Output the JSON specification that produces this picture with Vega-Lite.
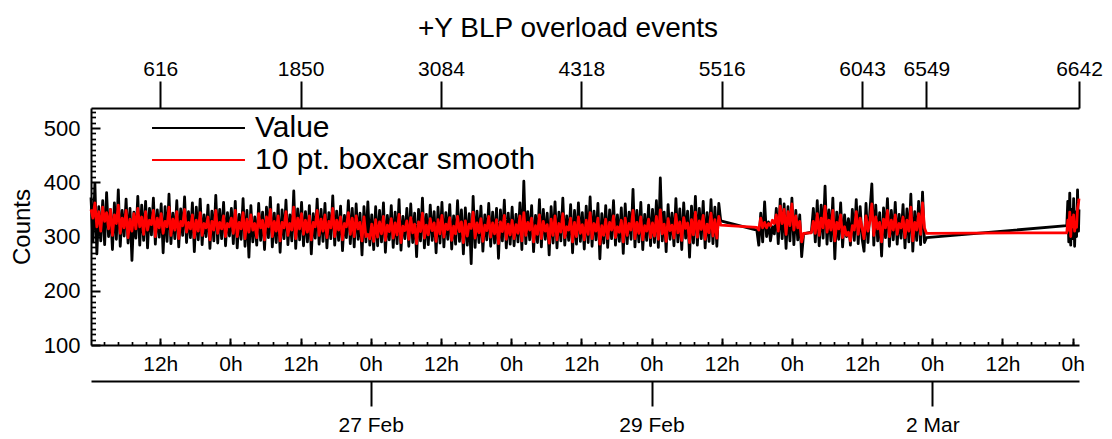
{
"$schema": "https://vega.github.io/schema/vega-lite/v6.json",
"width": 988, "height": 237,
"autosize": "none",
"padding": {"left": 91, "top": 108, "right": 33, "bottom": 94},
"title": {"text": "+Y BLP overload events", "fontSize": 28, "fontWeight": "normal", "font": "Liberation Sans", "color": "#000000", "anchor": "middle", "frame": "group", "dx": -17, "offset": 15},
"config": {
  "view": {"stroke": null},
  "font": "Liberation Sans",
  "axis": {"domainColor": "#000000", "tickColor": "#000000", "labelColor": "#000000", "titleColor": "#000000", "domainWidth": 2, "tickWidth": 2, "labelFont": "Liberation Sans", "titleFont": "Liberation Sans", "labelFontSize": 21, "titleFontSize": 24, "titleFontWeight": "normal", "grid": false, "labelOverlap": false, "labelFlush": false, "labelBound": false},
  "legend": {"labelFont": "Liberation Sans"}
},
"data": {"values": [
{"t":"2016-02-25T00:10Z","v":372,"s":350},{"t":"2016-02-25T00:30Z","v":290,"s":334},{"t":"2016-02-25T00:50Z","v":398,"s":362},
{"t":"2016-02-25T01:10Z","v":268,"s":318},{"t":"2016-02-25T01:30Z","v":355,"s":346},{"t":"2016-02-25T01:50Z","v":292,"s":310},
{"t":"2016-02-25T02:10Z","v":366,"s":354},{"t":"2016-02-25T02:30Z","v":285,"s":328},{"t":"2016-02-25T02:50Z","v":381,"s":344},
{"t":"2016-02-25T03:10Z","v":300,"s":314},{"t":"2016-02-25T03:30Z","v":350,"s":350},{"t":"2016-02-25T03:50Z","v":276,"s":302},
{"t":"2016-02-25T04:10Z","v":362,"s":340},{"t":"2016-02-25T04:30Z","v":295,"s":324},{"t":"2016-02-25T04:50Z","v":386,"s":358},
{"t":"2016-02-25T05:10Z","v":282,"s":306},{"t":"2016-02-25T05:30Z","v":348,"s":334},{"t":"2016-02-25T05:50Z","v":301,"s":316},
{"t":"2016-02-25T06:10Z","v":369,"s":348},{"t":"2016-02-25T06:30Z","v":288,"s":298},{"t":"2016-02-25T06:50Z","v":352,"s":332},
{"t":"2016-02-25T07:10Z","v":256,"s":310},{"t":"2016-02-25T07:30Z","v":345,"s":342},{"t":"2016-02-25T07:50Z","v":297,"s":314},
{"t":"2016-02-25T08:10Z","v":374,"s":352},{"t":"2016-02-25T08:30Z","v":284,"s":318},{"t":"2016-02-25T08:50Z","v":358,"s":336},
{"t":"2016-02-25T09:10Z","v":293,"s":304},{"t":"2016-02-25T09:30Z","v":365,"s":346},{"t":"2016-02-25T09:50Z","v":279,"s":312},
{"t":"2016-02-25T10:10Z","v":352,"s":330},{"t":"2016-02-25T10:30Z","v":303,"s":322},{"t":"2016-02-25T10:50Z","v":371,"s":348},
{"t":"2016-02-25T11:10Z","v":286,"s":300},{"t":"2016-02-25T11:30Z","v":349,"s":334},{"t":"2016-02-25T11:50Z","v":299,"s":316},
{"t":"2016-02-25T12:10Z","v":360,"s":342},{"t":"2016-02-25T12:30Z","v":270,"s":306},{"t":"2016-02-25T12:50Z","v":355,"s":328},
{"t":"2016-02-25T13:10Z","v":291,"s":318},{"t":"2016-02-25T13:30Z","v":378,"s":354},{"t":"2016-02-25T13:50Z","v":287,"s":302},
{"t":"2016-02-25T14:10Z","v":343,"s":332},{"t":"2016-02-25T14:30Z","v":296,"s":312},{"t":"2016-02-25T14:50Z","v":366,"s":346},
{"t":"2016-02-25T15:10Z","v":281,"s":296},{"t":"2016-02-25T15:30Z","v":351,"s":328},{"t":"2016-02-25T15:50Z","v":302,"s":320},
{"t":"2016-02-25T16:10Z","v":373,"s":350},{"t":"2016-02-25T16:30Z","v":289,"s":308},{"t":"2016-02-25T16:50Z","v":346,"s":326},
{"t":"2016-02-25T17:10Z","v":298,"s":314},{"t":"2016-02-25T17:30Z","v":362,"s":340},{"t":"2016-02-25T17:50Z","v":272,"s":298},
{"t":"2016-02-25T18:10Z","v":354,"s":330},{"t":"2016-02-25T18:30Z","v":294,"s":310},{"t":"2016-02-25T18:50Z","v":369,"s":344},
{"t":"2016-02-25T19:10Z","v":285,"s":302},{"t":"2016-02-25T19:30Z","v":340,"s":324},{"t":"2016-02-25T19:50Z","v":300,"s":316},
{"t":"2016-02-25T20:10Z","v":358,"s":336},{"t":"2016-02-25T20:30Z","v":278,"s":294},{"t":"2016-02-25T20:50Z","v":347,"s":328},
{"t":"2016-02-25T21:10Z","v":292,"s":312},{"t":"2016-02-25T21:30Z","v":376,"s":348},{"t":"2016-02-25T21:50Z","v":288,"s":306},
{"t":"2016-02-25T22:10Z","v":350,"s":326},{"t":"2016-02-25T22:30Z","v":296,"s":314},{"t":"2016-02-25T22:50Z","v":363,"s":338},
{"t":"2016-02-25T23:10Z","v":283,"s":300},{"t":"2016-02-25T23:30Z","v":344,"s":324},{"t":"2016-02-25T23:50Z","v":301,"s":318},
{"t":"2016-02-26T00:10Z","v":352,"s":334},{"t":"2016-02-26T00:30Z","v":287,"s":306},{"t":"2016-02-26T00:50Z","v":365,"s":348},
{"t":"2016-02-26T01:10Z","v":279,"s":300},{"t":"2016-02-26T01:30Z","v":341,"s":326},{"t":"2016-02-26T01:50Z","v":295,"s":314},
{"t":"2016-02-26T02:10Z","v":370,"s":344},{"t":"2016-02-26T02:30Z","v":282,"s":296},{"t":"2016-02-26T02:50Z","v":348,"s":332},
{"t":"2016-02-26T03:10Z","v":262,"s":308},{"t":"2016-02-26T03:30Z","v":357,"s":340},{"t":"2016-02-26T03:50Z","v":290,"s":312},
{"t":"2016-02-26T04:10Z","v":336,"s":324},{"t":"2016-02-26T04:30Z","v":284,"s":298},{"t":"2016-02-26T04:50Z","v":361,"s":342},
{"t":"2016-02-26T05:10Z","v":293,"s":316},{"t":"2016-02-26T05:30Z","v":345,"s":330},{"t":"2016-02-26T05:50Z","v":276,"s":294},
{"t":"2016-02-26T06:10Z","v":354,"s":336},{"t":"2016-02-26T06:30Z","v":298,"s":318},{"t":"2016-02-26T06:50Z","v":372,"s":350},
{"t":"2016-02-26T07:10Z","v":281,"s":300},{"t":"2016-02-26T07:30Z","v":343,"s":328},{"t":"2016-02-26T07:50Z","v":289,"s":310},
{"t":"2016-02-26T08:10Z","v":359,"s":338},{"t":"2016-02-26T08:30Z","v":271,"s":292},{"t":"2016-02-26T08:50Z","v":349,"s":326},
{"t":"2016-02-26T09:10Z","v":296,"s":316},{"t":"2016-02-26T09:30Z","v":367,"s":346},{"t":"2016-02-26T09:50Z","v":285,"s":302},
{"t":"2016-02-26T10:10Z","v":340,"s":324},{"t":"2016-02-26T10:30Z","v":292,"s":312},{"t":"2016-02-26T10:50Z","v":384,"s":354},
{"t":"2016-02-26T11:10Z","v":278,"s":296},{"t":"2016-02-26T11:30Z","v":351,"s":334},{"t":"2016-02-26T11:50Z","v":294,"s":314},
{"t":"2016-02-26T12:10Z","v":363,"s":342},{"t":"2016-02-26T12:30Z","v":283,"s":304},{"t":"2016-02-26T12:50Z","v":346,"s":330},
{"t":"2016-02-26T13:10Z","v":290,"s":308},{"t":"2016-02-26T13:30Z","v":357,"s":338},{"t":"2016-02-26T13:50Z","v":268,"s":294},
{"t":"2016-02-26T14:10Z","v":342,"s":326},{"t":"2016-02-26T14:30Z","v":297,"s":318},{"t":"2016-02-26T14:50Z","v":369,"s":348},
{"t":"2016-02-26T15:10Z","v":286,"s":302},{"t":"2016-02-26T15:30Z","v":350,"s":332},{"t":"2016-02-26T15:50Z","v":291,"s":310},
{"t":"2016-02-26T16:10Z","v":361,"s":340},{"t":"2016-02-26T16:30Z","v":279,"s":298},{"t":"2016-02-26T16:50Z","v":344,"s":328},
{"t":"2016-02-26T17:10Z","v":296,"s":316},{"t":"2016-02-26T17:30Z","v":375,"s":352},{"t":"2016-02-26T17:50Z","v":284,"s":300},
{"t":"2016-02-26T18:10Z","v":347,"s":330},{"t":"2016-02-26T18:30Z","v":293,"s":312},{"t":"2016-02-26T18:50Z","v":356,"s":336},
{"t":"2016-02-26T19:10Z","v":274,"s":294},{"t":"2016-02-26T19:30Z","v":339,"s":324},{"t":"2016-02-26T19:50Z","v":298,"s":318},
{"t":"2016-02-26T20:10Z","v":366,"s":344},{"t":"2016-02-26T20:30Z","v":287,"s":304},{"t":"2016-02-26T20:50Z","v":352,"s":334},
{"t":"2016-02-26T21:10Z","v":281,"s":300},{"t":"2016-02-26T21:30Z","v":360,"s":338},{"t":"2016-02-26T21:50Z","v":295,"s":314},
{"t":"2016-02-26T22:10Z","v":343,"s":326},{"t":"2016-02-26T22:30Z","v":266,"s":292},{"t":"2016-02-26T22:50Z","v":355,"s":336},
{"t":"2016-02-26T23:10Z","v":290,"s":300},{"t":"2016-02-26T23:30Z","v":364,"s":304},{"t":"2016-02-26T23:50Z","v":284,"s":296},
{"t":"2016-02-27T00:10Z","v":340,"s":323},{"t":"2016-02-27T00:30Z","v":276,"s":291},{"t":"2016-02-27T00:50Z","v":355,"s":331},
{"t":"2016-02-27T01:10Z","v":283,"s":299},{"t":"2016-02-27T01:30Z","v":348,"s":327},{"t":"2016-02-27T01:50Z","v":290,"s":305},
{"t":"2016-02-27T02:10Z","v":362,"s":337},{"t":"2016-02-27T02:30Z","v":271,"s":293},{"t":"2016-02-27T02:50Z","v":339,"s":321},
{"t":"2016-02-27T03:10Z","v":294,"s":309},{"t":"2016-02-27T03:30Z","v":357,"s":333},{"t":"2016-02-27T03:50Z","v":280,"s":297},
{"t":"2016-02-27T04:10Z","v":345,"s":325},{"t":"2016-02-27T04:30Z","v":287,"s":303},{"t":"2016-02-27T04:50Z","v":368,"s":341},
{"t":"2016-02-27T05:10Z","v":275,"s":289},{"t":"2016-02-27T05:30Z","v":337,"s":319},{"t":"2016-02-27T05:50Z","v":296,"s":311},
{"t":"2016-02-27T06:10Z","v":352,"s":329},{"t":"2016-02-27T06:30Z","v":282,"s":295},{"t":"2016-02-27T06:50Z","v":360,"s":335},
{"t":"2016-02-27T07:10Z","v":289,"s":307},{"t":"2016-02-27T07:30Z","v":343,"s":323},{"t":"2016-02-27T07:50Z","v":263,"s":287},
{"t":"2016-02-27T08:10Z","v":350,"s":327},{"t":"2016-02-27T08:30Z","v":292,"s":309},{"t":"2016-02-27T08:50Z","v":371,"s":343},
{"t":"2016-02-27T09:10Z","v":279,"s":297},{"t":"2016-02-27T09:30Z","v":341,"s":321},{"t":"2016-02-27T09:50Z","v":285,"s":303},
{"t":"2016-02-27T10:10Z","v":358,"s":333},{"t":"2016-02-27T10:30Z","v":293,"s":311},{"t":"2016-02-27T10:50Z","v":346,"s":325},
{"t":"2016-02-27T11:10Z","v":270,"s":291},{"t":"2016-02-27T11:30Z","v":354,"s":331},{"t":"2016-02-27T11:50Z","v":288,"s":305},
{"t":"2016-02-27T12:10Z","v":363,"s":339},{"t":"2016-02-27T12:30Z","v":281,"s":299},{"t":"2016-02-27T12:50Z","v":344,"s":323},
{"t":"2016-02-27T13:10Z","v":295,"s":313},{"t":"2016-02-27T13:30Z","v":359,"s":335},{"t":"2016-02-27T13:50Z","v":277,"s":293},
{"t":"2016-02-27T14:10Z","v":338,"s":319},{"t":"2016-02-27T14:30Z","v":286,"s":305},{"t":"2016-02-27T14:50Z","v":366,"s":337},
{"t":"2016-02-27T15:10Z","v":291,"s":309},{"t":"2016-02-27T15:30Z","v":349,"s":327},{"t":"2016-02-27T15:50Z","v":268,"s":289},
{"t":"2016-02-27T16:10Z","v":353,"s":329},{"t":"2016-02-27T16:30Z","v":284,"s":301},{"t":"2016-02-27T16:50Z","v":342,"s":323},
{"t":"2016-02-27T17:10Z","v":250,"s":315},{"t":"2016-02-27T17:30Z","v":374,"s":345},{"t":"2016-02-27T17:50Z","v":280,"s":297},
{"t":"2016-02-27T18:10Z","v":347,"s":325},{"t":"2016-02-27T18:30Z","v":289,"s":307},{"t":"2016-02-27T18:50Z","v":356,"s":333},
{"t":"2016-02-27T19:10Z","v":273,"s":291},{"t":"2016-02-27T19:30Z","v":340,"s":321},{"t":"2016-02-27T19:50Z","v":294,"s":311},
{"t":"2016-02-27T20:10Z","v":361,"s":337},{"t":"2016-02-27T20:30Z","v":282,"s":299},{"t":"2016-02-27T20:50Z","v":345,"s":325},
{"t":"2016-02-27T21:10Z","v":288,"s":305},{"t":"2016-02-27T21:30Z","v":352,"s":331},{"t":"2016-02-27T21:50Z","v":260,"s":287},
{"t":"2016-02-27T22:10Z","v":349,"s":327},{"t":"2016-02-27T22:30Z","v":292,"s":309},{"t":"2016-02-27T22:50Z","v":367,"s":339},
{"t":"2016-02-27T23:10Z","v":279,"s":295},{"t":"2016-02-27T23:30Z","v":343,"s":323},{"t":"2016-02-27T23:50Z","v":286,"s":303},
{"t":"2016-02-28T00:10Z","v":354,"s":330},{"t":"2016-02-28T00:30Z","v":283,"s":296},{"t":"2016-02-28T00:50Z","v":341,"s":322},
{"t":"2016-02-28T01:10Z","v":290,"s":306},{"t":"2016-02-28T01:30Z","v":362,"s":338},{"t":"2016-02-28T01:50Z","v":276,"s":292},
{"t":"2016-02-28T02:10Z","v":402,"s":344},{"t":"2016-02-28T02:30Z","v":287,"s":302},{"t":"2016-02-28T02:50Z","v":346,"s":326},
{"t":"2016-02-28T03:10Z","v":294,"s":312},{"t":"2016-02-28T03:30Z","v":357,"s":334},{"t":"2016-02-28T03:50Z","v":272,"s":290},
{"t":"2016-02-28T04:10Z","v":339,"s":320},{"t":"2016-02-28T04:30Z","v":289,"s":304},{"t":"2016-02-28T04:50Z","v":368,"s":340},
{"t":"2016-02-28T05:10Z","v":281,"s":296},{"t":"2016-02-28T05:30Z","v":350,"s":328},{"t":"2016-02-28T05:50Z","v":295,"s":310},
{"t":"2016-02-28T06:10Z","v":343,"s":322},{"t":"2016-02-28T06:30Z","v":266,"s":288},{"t":"2016-02-28T06:50Z","v":355,"s":332},
{"t":"2016-02-28T07:10Z","v":288,"s":302},{"t":"2016-02-28T07:30Z","v":364,"s":338},{"t":"2016-02-28T07:50Z","v":279,"s":294},
{"t":"2016-02-28T08:10Z","v":345,"s":324},{"t":"2016-02-28T08:30Z","v":292,"s":308},{"t":"2016-02-28T08:50Z","v":371,"s":342},
{"t":"2016-02-28T09:10Z","v":284,"s":298},{"t":"2016-02-28T09:30Z","v":338,"s":318},{"t":"2016-02-28T09:50Z","v":293,"s":312},
{"t":"2016-02-28T10:10Z","v":359,"s":334},{"t":"2016-02-28T10:30Z","v":270,"s":290},{"t":"2016-02-28T10:50Z","v":348,"s":326},
{"t":"2016-02-28T11:10Z","v":286,"s":300},{"t":"2016-02-28T11:30Z","v":362,"s":336},{"t":"2016-02-28T11:50Z","v":291,"s":306},
{"t":"2016-02-28T12:10Z","v":344,"s":322},{"t":"2016-02-28T12:30Z","v":277,"s":294},{"t":"2016-02-28T12:50Z","v":356,"s":330},
{"t":"2016-02-28T13:10Z","v":289,"s":304},{"t":"2016-02-28T13:30Z","v":373,"s":344},{"t":"2016-02-28T13:50Z","v":282,"s":296},
{"t":"2016-02-28T14:10Z","v":347,"s":324},{"t":"2016-02-28T14:30Z","v":294,"s":310},{"t":"2016-02-28T14:50Z","v":361,"s":334},
{"t":"2016-02-28T15:10Z","v":259,"s":286},{"t":"2016-02-28T15:30Z","v":342,"s":320},{"t":"2016-02-28T15:50Z","v":288,"s":302},
{"t":"2016-02-28T16:10Z","v":357,"s":332},{"t":"2016-02-28T16:30Z","v":280,"s":296},{"t":"2016-02-28T16:50Z","v":349,"s":326},
{"t":"2016-02-28T17:10Z","v":296,"s":312},{"t":"2016-02-28T17:30Z","v":366,"s":338},{"t":"2016-02-28T17:50Z","v":284,"s":298},
{"t":"2016-02-28T18:10Z","v":340,"s":318},{"t":"2016-02-28T18:30Z","v":291,"s":308},{"t":"2016-02-28T18:50Z","v":353,"s":330},
{"t":"2016-02-28T19:10Z","v":269,"s":290},{"t":"2016-02-28T19:30Z","v":360,"s":334},{"t":"2016-02-28T19:50Z","v":287,"s":302},
{"t":"2016-02-28T20:10Z","v":345,"s":324},{"t":"2016-02-28T20:30Z","v":295,"s":312},{"t":"2016-02-28T20:50Z","v":387,"s":348},
{"t":"2016-02-28T21:10Z","v":281,"s":296},{"t":"2016-02-28T21:30Z","v":348,"s":326},{"t":"2016-02-28T21:50Z","v":290,"s":306},
{"t":"2016-02-28T22:10Z","v":363,"s":336},{"t":"2016-02-28T22:30Z","v":276,"s":294},{"t":"2016-02-28T22:50Z","v":341,"s":320},
{"t":"2016-02-28T23:10Z","v":293,"s":310},{"t":"2016-02-28T23:30Z","v":358,"s":332},{"t":"2016-02-28T23:50Z","v":283,"s":298},
{"t":"2016-02-29T00:10Z","v":350,"s":325},{"t":"2016-02-29T00:30Z","v":289,"s":301},{"t":"2016-02-29T00:50Z","v":366,"s":337},
{"t":"2016-02-29T01:10Z","v":280,"s":295},{"t":"2016-02-29T01:30Z","v":408,"s":349},{"t":"2016-02-29T01:50Z","v":292,"s":305},
{"t":"2016-02-29T02:10Z","v":345,"s":323},{"t":"2016-02-29T02:30Z","v":272,"s":291},{"t":"2016-02-29T02:50Z","v":359,"s":333},
{"t":"2016-02-29T03:10Z","v":295,"s":311},{"t":"2016-02-29T03:30Z","v":343,"s":321},{"t":"2016-02-29T03:50Z","v":283,"s":297},
{"t":"2016-02-29T04:10Z","v":370,"s":341},{"t":"2016-02-29T04:30Z","v":290,"s":307},{"t":"2016-02-29T04:50Z","v":351,"s":327},
{"t":"2016-02-29T05:10Z","v":276,"s":293},{"t":"2016-02-29T05:30Z","v":362,"s":335},{"t":"2016-02-29T05:50Z","v":297,"s":315},
{"t":"2016-02-29T06:10Z","v":347,"s":325},{"t":"2016-02-29T06:30Z","v":262,"s":289},{"t":"2016-02-29T06:50Z","v":356,"s":331},
{"t":"2016-02-29T07:10Z","v":288,"s":303},{"t":"2016-02-29T07:30Z","v":374,"s":345},{"t":"2016-02-29T07:50Z","v":284,"s":299},
{"t":"2016-02-29T08:10Z","v":352,"s":329},{"t":"2016-02-29T08:30Z","v":296,"s":313},{"t":"2016-02-29T08:50Z","v":365,"s":339},
{"t":"2016-02-29T09:10Z","v":279,"s":295},{"t":"2016-02-29T09:30Z","v":344,"s":323},{"t":"2016-02-29T09:50Z","v":291,"s":307},
{"t":"2016-02-29T10:10Z","v":368,"s":343},{"t":"2016-02-29T10:30Z","v":287,"s":301},{"t":"2016-02-29T10:50Z","v":354,"s":331},
{"t":"2016-02-29T11:10Z","v":282,"s":297},{"t":"2016-02-29T11:30Z","v":361,"s":337},{"t":"2016-02-29T11:50Z","v":329,"s":321},
{"t":"2016-02-29T18:00Z","v":312,"s":317},{"t":"2016-02-29T18:20Z","v":284,"s":312},{"t":"2016-02-29T18:40Z","v":343,"s":334},
{"t":"2016-02-29T19:00Z","v":290,"s":316},{"t":"2016-02-29T19:20Z","v":364,"s":326},{"t":"2016-02-29T19:40Z","v":300,"s":316},
{"t":"2016-02-29T20:00Z","v":327,"s":324},{"t":"2016-02-29T20:20Z","v":292,"s":320},{"t":"2016-02-29T20:40Z","v":318,"s":330},
{"t":"2016-02-29T21:00Z","v":305,"s":324},
{"t":"2016-02-29T21:20Z","v":352,"s":340},{"t":"2016-02-29T21:40Z","v":287,"s":310},{"t":"2016-02-29T22:00Z","v":369,"s":356},
{"t":"2016-02-29T22:20Z","v":296,"s":324},{"t":"2016-02-29T22:40Z","v":360,"s":350},{"t":"2016-02-29T23:00Z","v":278,"s":304},
{"t":"2016-02-29T23:20Z","v":355,"s":346},{"t":"2016-02-29T23:40Z","v":292,"s":320},{"t":"2016-03-01T00:00Z","v":371,"s":360},
{"t":"2016-03-01T00:20Z","v":285,"s":312},{"t":"2016-03-01T00:40Z","v":348,"s":338},{"t":"2016-03-01T01:00Z","v":294,"s":316},
{"t":"2016-03-01T01:20Z","v":340,"s":328},{"t":"2016-03-01T01:40Z","v":263,"s":290},{"t":"2016-03-01T02:00Z","v":305,"s":306},
{"t":"2016-03-01T03:20Z","v":308,"s":307},{"t":"2016-03-01T03:40Z","v":352,"s":328},{"t":"2016-03-01T04:00Z","v":290,"s":306},
{"t":"2016-03-01T04:20Z","v":366,"s":342},{"t":"2016-03-01T04:40Z","v":283,"s":302},{"t":"2016-03-01T05:00Z","v":358,"s":334},
{"t":"2016-03-01T05:20Z","v":297,"s":316},{"t":"2016-03-01T05:40Z","v":393,"s":356},{"t":"2016-03-01T06:00Z","v":286,"s":308},
{"t":"2016-03-01T06:20Z","v":349,"s":330},{"t":"2016-03-01T06:40Z","v":292,"s":312},{"t":"2016-03-01T07:00Z","v":371,"s":348},
{"t":"2016-03-01T07:20Z","v":259,"s":292},{"t":"2016-03-01T07:40Z","v":345,"s":326},{"t":"2016-03-01T08:00Z","v":295,"s":314},
{"t":"2016-03-01T08:20Z","v":362,"s":340},{"t":"2016-03-01T08:40Z","v":281,"s":298},{"t":"2016-03-01T09:00Z","v":340,"s":318},
{"t":"2016-03-01T09:20Z","v":300,"s":302},{"t":"2016-03-01T09:40Z","v":333,"s":308},{"t":"2016-03-01T10:00Z","v":284,"s":292},
{"t":"2016-03-01T10:20Z","v":350,"s":320},{"t":"2016-03-01T10:40Z","v":293,"s":312},{"t":"2016-03-01T11:00Z","v":368,"s":346},
{"t":"2016-03-01T11:20Z","v":287,"s":304},{"t":"2016-03-01T11:40Z","v":355,"s":334},{"t":"2016-03-01T12:00Z","v":296,"s":316},
{"t":"2016-03-01T12:20Z","v":273,"s":296},{"t":"2016-03-01T12:40Z","v":361,"s":338},{"t":"2016-03-01T13:00Z","v":289,"s":310},
{"t":"2016-03-01T13:20Z","v":347,"s":328},{"t":"2016-03-01T13:40Z","v":397,"s":360},{"t":"2016-03-01T14:00Z","v":284,"s":302},
{"t":"2016-03-01T14:20Z","v":358,"s":336},{"t":"2016-03-01T14:40Z","v":292,"s":314},{"t":"2016-03-01T15:00Z","v":344,"s":326},
{"t":"2016-03-01T15:20Z","v":264,"s":290},{"t":"2016-03-01T15:40Z","v":353,"s":332},{"t":"2016-03-01T16:00Z","v":298,"s":316},
{"t":"2016-03-01T16:20Z","v":370,"s":348},{"t":"2016-03-01T16:40Z","v":282,"s":300},{"t":"2016-03-01T17:00Z","v":348,"s":330},
{"t":"2016-03-01T17:20Z","v":294,"s":312},{"t":"2016-03-01T17:40Z","v":363,"s":340},{"t":"2016-03-01T18:00Z","v":286,"s":304},
{"t":"2016-03-01T18:20Z","v":341,"s":324},{"t":"2016-03-01T18:40Z","v":297,"s":316},{"t":"2016-03-01T19:00Z","v":359,"s":336},
{"t":"2016-03-01T19:20Z","v":279,"s":298},{"t":"2016-03-01T19:40Z","v":351,"s":330},{"t":"2016-03-01T20:00Z","v":290,"s":310},
{"t":"2016-03-01T20:20Z","v":378,"s":354},{"t":"2016-03-01T20:40Z","v":273,"s":292},{"t":"2016-03-01T21:00Z","v":346,"s":326},
{"t":"2016-03-01T21:20Z","v":293,"s":312},{"t":"2016-03-01T21:40Z","v":365,"s":342},{"t":"2016-03-01T22:00Z","v":285,"s":304},
{"t":"2016-03-01T22:20Z","v":382,"s":362},{"t":"2016-03-01T22:40Z","v":289,"s":316},{"t":"2016-03-01T23:00Z","v":298,"s":306},
{"t":"2016-03-02T23:00Z","v":320,"s":307},{"t":"2016-03-02T23:10Z","v":365,"s":330},{"t":"2016-03-02T23:20Z","v":290,"s":312},
{"t":"2016-03-02T23:30Z","v":380,"s":345},{"t":"2016-03-02T23:40Z","v":284,"s":300},{"t":"2016-03-02T23:50Z","v":350,"s":335},
{"t":"2016-03-03T00:00Z","v":296,"s":318},{"t":"2016-03-03T00:10Z","v":370,"s":340},{"t":"2016-03-03T00:20Z","v":282,"s":310},
{"t":"2016-03-03T00:30Z","v":345,"s":326},{"t":"2016-03-03T00:40Z","v":300,"s":317},{"t":"2016-03-03T00:50Z","v":386,"s":352},
{"t":"2016-03-03T01:00Z","v":310,"s":362},{"t":"2016-03-03T01:05Z","v":350,"s":370}
]},
"layer": [
  {
    "mark": {"type": "line", "strokeWidth": 2.8, "strokeJoin": "round"},
    "encoding": {
      "x": {"field": "t", "type": "temporal", "scale": {"type": "utc"},
            "axis": {"orient": "bottom", "title": null, "values": [1456401600000,1456444800000,1456488000000,1456531200000,1456574400000,1456617600000,1456660800000,1456704000000,1456747200000,1456790400000,1456833600000,1456876800000,1456920000000,1456963200000],
                     "labelExpr": "utchours(datum.value)==0 ? '0h' : '12h'", "tickSize": -7, "labelPadding": 15}},
      "y": {"field": "v", "type": "quantitative", "scale": {"domain": [100, 537], "nice": false, "zero": false},
            "axis": {"orient": "left", "values": [100,200,300,400,500], "tickSize": -9, "labelPadding": 20, "labelFontSize": 22, "title": "Counts", "titleFontSize": 24, "titleFontWeight": "normal", "titlePadding": 9}},
      "color": {"datum": "Value", "type": "nominal",
                "scale": {"domain": ["Value", "10 pt. boxcar smooth"], "range": ["#000000", "#ff0000"]},
                "legend": {"orient": "none", "legendX": 92.5, "legendY": 5, "title": null, "padding": 0,
                           "symbolType": "M-4,0H4", "symbolSize": 540, "symbolStrokeWidth": 2,
                           "labelFontSize": 30, "labelColor": "#000000", "labelOffset": 41.5, "labelLimit": 0, "rowPadding": 2}}
    }
  },
  {
    "mark": {"type": "line", "strokeWidth": 2.8, "strokeJoin": "round"},
    "encoding": {
      "x": {"field": "t", "type": "temporal", "scale": {"type": "utc"},
            "axis": {"orient": "bottom", "title": null, "labels": false, "domain": false, "tickSize": -3.5, "tickWidth": 1.7,
                     "values": [1456367040000,1456375680000,1456384320000,1456392960000,1456401600000,1456410240000,1456418880000,1456427520000,1456436160000,1456444800000,1456453440000,1456462080000,1456470720000,1456479360000,1456488000000,1456496640000,1456505280000,1456513920000,1456522560000,1456531200000,1456539840000,1456548480000,1456557120000,1456565760000,1456574400000,1456583040000,1456591680000,1456600320000,1456608960000,1456617600000,1456626240000,1456634880000,1456643520000,1456652160000,1456660800000,1456669440000,1456678080000,1456686720000,1456695360000,1456704000000,1456712640000,1456721280000,1456729920000,1456738560000,1456747200000,1456755840000,1456764480000,1456773120000,1456781760000,1456790400000,1456799040000,1456807680000,1456816320000,1456824960000,1456833600000,1456842240000,1456850880000,1456859520000,1456868160000,1456876800000,1456885440000,1456894080000,1456902720000,1456911360000,1456920000000,1456928640000,1456937280000,1456945920000,1456954560000,1456963200000]}},
      "y": {"field": "s", "type": "quantitative", "scale": {"domain": [100, 537], "nice": false, "zero": false},
            "axis": {"orient": "left", "title": null, "labels": false, "domain": false, "tickSize": -4.5, "tickWidth": 1.7,
                     "values": [110,120,130,140,150,160,170,180,190,210,220,230,240,250,260,270,280,290,310,320,330,340,350,360,370,380,390,410,420,430,440,450,460,470,480,490,510,520,530]}},
      "color": {"datum": "10 pt. boxcar smooth", "type": "nominal"}
    }
  },
  {
    "mark": {"type": "line", "opacity": 0},
    "encoding": {
      "x": {"field": "t", "type": "temporal", "scale": {"type": "utc"},
            "axis": {"orient": "top", "title": null, "tickSize": 27, "labelPadding": 2,
                     "values": [1456401600000,1456488000000,1456574400000,1456660800000,1456747200000,1456833600000,1456873200000,1456967100000],
                     "labelExpr": "datum.value < 1456440000000 ? '616' : datum.value < 1456530000000 ? '1850' : datum.value < 1456620000000 ? '3084' : datum.value < 1456700000000 ? '4318' : datum.value < 1456790000000 ? '5516' : datum.value < 1456850000000 ? '6043' : datum.value < 1456900000000 ? '6549' : '6642'"}},
      "y": {"field": "v", "type": "quantitative", "scale": {"domain": [100, 537], "nice": false, "zero": false}, "axis": null}
    }
  },
  {
    "mark": {"type": "line", "opacity": 0},
    "encoding": {
      "x": {"field": "t", "type": "temporal", "scale": {"type": "utc"},
            "axis": {"orient": "bottom", "offset": 36, "title": null, "tickSize": 25, "labelPadding": 8,
                     "values": [1456531200000,1456704000000,1456876800000],
                     "labelExpr": "utcFormat(datum.value, '%-d %b')"}},
      "y": {"field": "v", "type": "quantitative", "scale": {"domain": [100, 537], "nice": false, "zero": false}, "axis": null}
    }
  }
],
"resolve": {"axis": {"x": "independent", "y": "independent"}}
}
